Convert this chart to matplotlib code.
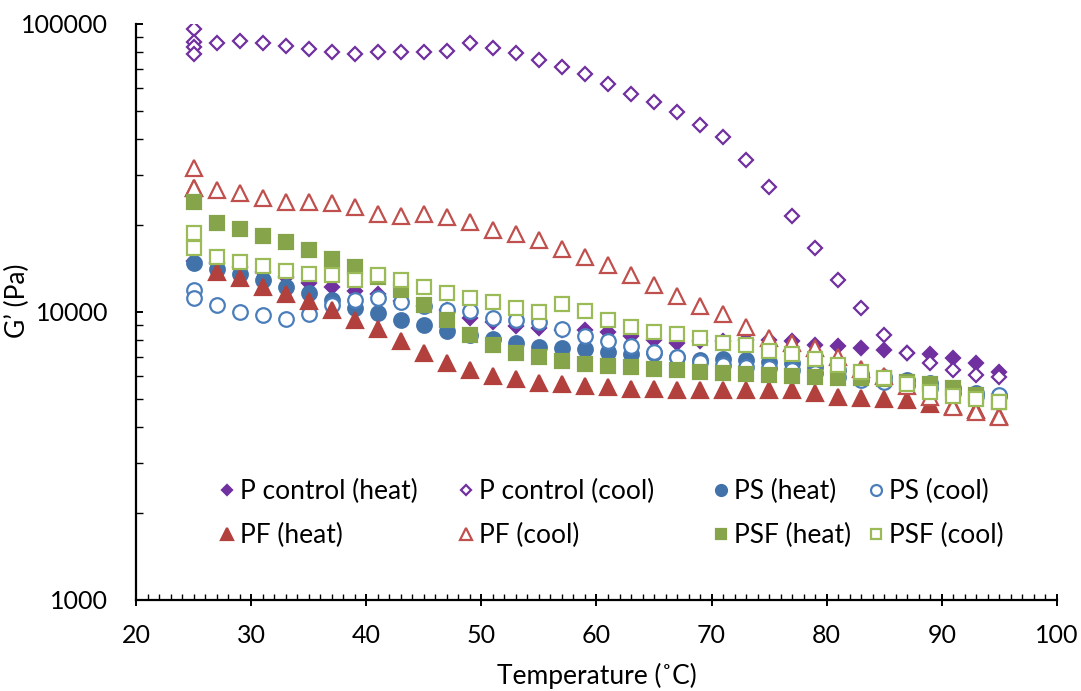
"""G' versus temperature for heating and cooling ramps."""

import matplotlib.pyplot as plt
from matplotlib.legend import Legend
from matplotlib.ticker import FuncFormatter, LogLocator, MultipleLocator, NullFormatter

plt.rcParams["font.family"] = ["Lato", "DejaVu Sans"]

# Measurement temperatures (degC)
TEMPS = [25, 27, 29, 31, 33, 35, 37, 39, 41, 43, 45, 47, 49, 51, 53, 55, 57, 59,
         61, 63, 65, 67, 69, 71, 73, 75, 77, 79, 81, 83, 85, 87, 89, 91, 93, 95]

# cooling ramps end with a few extra readings held at 25 degC
P_COOL_T = [25, 25, 25] + TEMPS
ONE_EXTRA_T = [25] + TEMPS

p_heat = [15000, 14760, 14300, 13720, 13200, 12580, 12240, 11850, 11540, 10950,
          10500, 10160, 9510, 9260, 8940, 8780, 8660, 8660, 8550, 8280, 7990, 7790,
          7900, 7950, 8000, 8000, 7950, 7680, 7600, 7480, 7380, 7200, 7150, 6900,
          6640, 6200]
p_cool = [95900, 86800, 83400, 78700, 86100, 87100, 85900, 83900, 82100, 80200,
          78700, 79800, 79800, 79800, 80800, 86100, 82700, 79100, 75000, 70700,
          67000, 61900, 57000, 53600, 49500, 44600, 40400, 33600, 27200, 21500,
          16700, 12900, 10300, 8320, 7220, 6670, 6290, 6040, 5930]
ps_heat = [14850, 14060, 13500, 12870, 12240, 11600, 11010, 10330, 9900, 9380,
           8990, 8600, 8300, 8040, 7820, 7580, 7480, 7440, 7280, 7150, 7180, 6960,
           6810, 6850, 6800, 6700, 6640, 6460, 6290, 6100, 5950, 5800, 5650, 5450,
           5250, 5100]
ps_cool = [11930, 11160, 10550, 10020, 9750, 9450, 9860, 10550, 11010, 11160,
           10860, 10500, 10160, 10050, 9550, 9390, 9260, 8710, 8250, 7950, 7640,
           7280, 6960, 6720, 6550, 6450, 6370, 6290, 6130, 5960, 5800, 5700, 5600,
           5430, 5250, 5100, 5150]
pf_heat = [27000, 13800, 13090, 12240, 11550, 10900, 10160, 9380, 8750, 7950,
           7190, 6640, 6290, 5990, 5840, 5680, 5620, 5530, 5480, 5390, 5390, 5360,
           5360, 5360, 5360, 5360, 5350, 5250, 5050, 5010, 4990, 4950, 4800, 4700,
           4550, 4350]
pf_cool = [31530, 26900, 26530, 25970, 24820, 24150, 24150, 23840, 23210, 21890,
           21540, 21890, 21320, 20480, 19260, 18620, 17780, 16500, 15560, 14570,
           13440, 12410, 11370, 10500, 9860, 8890, 8100, 7820, 7480, 7000, 6350,
           6000, 5550, 5050, 4670, 4510, 4330]
psf_heat = [24150, 20420, 19440, 18360, 17460, 16420, 15300, 14300, 13220, 11900,
            10600, 9380, 8320, 7680, 7220, 6960, 6760, 6590, 6490, 6420, 6330, 6270,
            6210, 6150, 6070, 6050, 5990, 5950, 5900, 5900, 5840, 5730, 5630, 5430,
            5150, 4880]
psf_cool = [18860, 16650, 15560, 14950, 14390, 13900, 13550, 13440, 12920, 13400,
            12920, 12240, 11680, 11200, 10810, 10300, 9980, 10640, 10080, 9380, 8890,
            8540, 8360, 8100, 7800, 7680, 7340, 7150, 6860, 6550, 6210, 5900, 5620,
            5290, 5120, 5000, 4880]

PURPLE = "#7030A0"
BLUE_FILL, BLUE_EDGE = "#4272AA", "#4A7EBB"
RED_FILL, RED_EDGE = "#B2403D", "#C0504D"
GREEN_FILL, GREEN_EDGE = "#86A44A", "#9BBB59"

# label, x, y, marker, size, face, edge
series = [
    ("P control (heat)", TEMPS, p_heat, "D", 7.4, PURPLE, PURPLE),
    ("P control (cool)", P_COOL_T, p_cool, "D", 7.4, "white", PURPLE),
    ("PS (heat)", TEMPS, ps_heat, "o", 10.5, BLUE_FILL, BLUE_FILL),
    ("PS (cool)", ONE_EXTRA_T, ps_cool, "o", 10.5, "white", BLUE_EDGE),
    ("PF (heat)", TEMPS, pf_heat, "^", 11, RED_FILL, RED_FILL),
    ("PF (cool)", ONE_EXTRA_T, pf_cool, "^", 11, "white", RED_EDGE),
    ("PSF (heat)", TEMPS, psf_heat, "s", 10, GREEN_FILL, GREEN_FILL),
    ("PSF (cool)", ONE_EXTRA_T, psf_cool, "s", 10, "white", GREEN_EDGE),
]

fig = plt.figure(figsize=(10.81, 6.91), dpi=100)
ax = fig.add_axes([0.1258, 0.1317, 0.852, 0.8336])

handles = []
for label, x, y, marker, size, face, edge in series:
    (h,) = ax.plot(x, y, linestyle="none", marker=marker, markersize=size,
                   markerfacecolor=face, markeredgecolor=edge,
                   markeredgewidth=1.6, label=label)
    handles.append(h)

ax.set_yscale("log")
ax.set_xlim(20, 100)
ax.set_ylim(1000, 100000)
ax.xaxis.set_major_locator(MultipleLocator(10))
ax.xaxis.set_minor_locator(MultipleLocator(1))
ax.yaxis.set_major_locator(LogLocator(base=10))
ax.yaxis.set_minor_locator(LogLocator(base=10, subs=range(2, 10)))
ax.yaxis.set_major_formatter(FuncFormatter(lambda v, p: f"{v:.0f}"))
ax.yaxis.set_minor_formatter(NullFormatter())

for side in ("top", "right"):
    ax.spines[side].set_visible(False)
for side in ("left", "bottom"):
    ax.spines[side].set_linewidth(1.6)
    ax.spines[side].set_color("black")

ax.tick_params(axis="x", which="major", direction="inout", length=9, width=1.4,
               labelsize=18, pad=13)
ax.tick_params(axis="x", which="minor", direction="in", length=4, width=1)
ax.tick_params(axis="y", which="major", direction="in", length=5, width=1.4,
               labelsize=18, pad=20)
ax.tick_params(axis="y", which="minor", direction="in", length=5, width=1)

ax.set_xlabel("Temperature (˚C)", fontsize=19, labelpad=11)
ax.set_ylabel("G’ (Pa)", fontsize=19)
ax.yaxis.set_label_coords(-0.115, 0.52)

# legend laid out as four columns of two rows inside the plot
col_left = [0.188, 0.409, 0.645, 0.788]
for i, left in enumerate(col_left):
    col = [handles[i], handles[i + 4]]
    leg = Legend(ax, col, [h.get_label() for h in col], loc="upper left",
                 bbox_to_anchor=(left, 0.326), bbox_transform=fig.transFigure,
                 frameon=False, fontsize=19, markerscale=0.75, borderpad=0,
                 handlelength=0.8, handletextpad=0.1, labelspacing=0.72)
    ax.add_artist(leg)

fig.savefig("out.png", dpi=100)
